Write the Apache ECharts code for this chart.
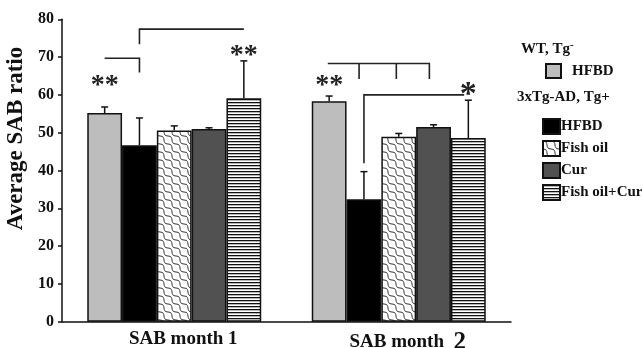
<!DOCTYPE html>
<html><head><meta charset="utf-8">
<script src="https://cdn.jsdelivr.net/npm/echarts@6/dist/echarts.min.js"></script>
<style>html,body{margin:0;padding:0;background:#fff}#c{width:642px;height:348px}</style>
</head><body><div id="c"></div>
<script>
// ---- data ----
const categories = ['SAB month 1', 'SAB month 2'];
const seriesNames = ['WT HFBD', 'HFBD', 'Fish oil', 'Cur', 'Fish oil+Cur'];
const wtHFBD = [55.2, 58.3];
const tgHFBD = [46.7, 32.4];
const fishOil = [50.6, 48.9];
const cur = [51.0, 51.5];
const fishOilCur = [59.1, 48.6];
const wtHFBDErr = [1.6, 1.4];
const tgHFBDErr = [7.2, 7.3];
const fishOilErr = [1.2, 0.9];
const curErr = [0.3, 0.6];
const fishOilCurErr = [9.9, 10.0];
const yTicks = [0, 10, 20, 30, 40, 50, 60, 70, 80];
// significance brackets: polylines of [category, bar position, value]
const brackets = [
  [[0, 0, 69.7], [0, 1, 69.7], [0, 1, 65.9]],
  [[0, 1, 73.4], [0, 1, 77.4], [0, 4, 77.4]],
  [[1, -0.04, 68.3], [1, 2.88, 68.3], [1, 2.88, 64.2]],
  [[1, 0.86, 68.3], [1, 0.86, 64.2]],
  [[1, 1.93, 68.3], [1, 1.93, 64.2]],
  [[1, 1, 41.9], [1, 1, 60.0], [1, 3.88, 60.0]]
];
// significance stars: [category, bar position, value, text]
const starCat = [0, 0, 1, 1];
const starBar = [0, 4, 0, 4];
const starVal = [63.5, 71.4, 63.5, 61.7];
const starText = ['**', '**', '**', '*'];

// ---- styling ----
const FONT = '"Liberation Serif", "Times New Roman", serif';
const GAP = 0.225;
function stripes() {
  const c = document.createElement('canvas'); c.width = 4; c.height = 3;
  const g = c.getContext('2d'); g.fillStyle = '#fff'; g.fillRect(0, 0, 4, 3);
  g.fillStyle = '#111'; g.fillRect(0, 0, 4, 1.3); return c;
}
function waves() {
  const c = document.createElement('canvas'); c.width = 8; c.height = 8;
  const g = c.getContext('2d'); g.fillStyle = '#fff'; g.fillRect(0, 0, 8, 8);
  g.strokeStyle = '#333'; g.lineWidth = 1;
  for (const [dx, dy] of [[0, 0], [-8, 0], [8, 0], [0, -8], [0, 8]]) {
    g.beginPath(); g.moveTo(dx, dy); g.bezierCurveTo(dx + 7, dy, dx + 1, dy + 8, dx + 8, dy + 8); g.stroke();
  }
  return c;
}
const colors = ['#bdbdbd', '#000000', { image: waves(), repeat: 'repeat' }, '#515151', { image: stripes(), repeat: 'repeat' }];
const values = [wtHFBD, tgHFBD, fishOil, cur, fishOilCur];
const errs = [wtHFBDErr, tgHFBDErr, fishOilErr, curErr, fishOilCurErr];

function barX(api, cat, pos) {
  const cx = api.coord([cat, 0])[0];
  const bw = api.size([1, 0])[0] * (1 - GAP) / 5;
  return cx + (pos - 2) * bw;
}

const barSeries = seriesNames.map((n, i) => ({
  name: n, type: 'bar', data: values[i], barGap: '0%', barCategoryGap: (GAP * 100) + '%',
  itemStyle: { color: colors[i], borderColor: '#111', borderWidth: 1.5 },
  emphasis: { disabled: true }, z: 2
}));

const errData = [];
values.forEach((arr, s) => arr.forEach((v, c) => errData.push([c, v, errs[s][c], s])));

const chart = echarts.init(document.getElementById('c'), null, { renderer: 'canvas' });
chart.setOption({
  animation: false,
  grid: { left: 62, right: 131, top: 19.3, bottom: 26.3, containLabel: false, outerBoundsMode: 'none' },
  xAxis: {
    type: 'category', data: categories,
    axisLine: { lineStyle: { color: '#111', width: 1.5 } },
    axisTick: { length: 5, lineStyle: { color: '#111', width: 1.5 } },
    axisLabel: {
      color: '#111', fontFamily: FONT, fontWeight: 'bold', fontSize: 19, margin: 8,
      padding: [0, 0, 0, 18],
      formatter: (v, i) => i === 1 ? 'SAB month  {b|2}' : v,
      rich: { b: { fontFamily: FONT, fontWeight: 'bold', fontSize: 25, color: '#111' } }
    }
  },
  yAxis: {
    type: 'value', min: yTicks[0], max: yTicks[yTicks.length - 1], interval: 10,
    name: 'Average SAB ratio', nameLocation: 'middle', nameGap: 29,
    nameTextStyle: { color: '#111', fontFamily: FONT, fontWeight: 'bold', fontSize: 23, padding: [0, 0, 0, 64] },
    axisLine: { show: true, lineStyle: { color: '#111', width: 1.5 } },
    axisTick: { show: true, length: 4, lineStyle: { color: '#111', width: 1.5 } },
    splitLine: { show: false },
    axisLabel: { color: '#111', fontFamily: FONT, fontWeight: 'bold', fontSize: 16, margin: 8 }
  },
  legend: [
    {
      data: ['WT HFBD'], left: 545, top: 63, padding: 0, itemWidth: 15, itemHeight: 14, icon: 'rect', selectedMode: false,
      formatter: () => 'HFBD',
      textStyle: { color: '#111', fontFamily: FONT, fontWeight: 'bold', fontSize: 15, padding: [0, 0, 0, 6] }
    },
    {
      data: ['HFBD', 'Fish oil', 'Cur', 'Fish oil+Cur'], orient: 'vertical', left: 542, top: 118, padding: 0,
      itemWidth: 17, itemHeight: 15, itemGap: 5, icon: 'rect', selectedMode: false,
      textStyle: { color: '#111', fontFamily: FONT, fontWeight: 'bold', fontSize: 15, padding: [0, 0, 0, -4] }
    }
  ],
  graphic: [
    {
      type: 'text', left: 521, top: 40,
      style: {
        text: '{a|WT, Tg}{s|-}',
        rich: {
          a: { fontFamily: FONT, fontWeight: 'bold', fontSize: 15, fill: '#111' },
          s: { fontFamily: FONT, fontWeight: 'bold', fontSize: 11, fill: '#111', verticalAlign: 'top', padding: [0, 0, 8, 0] }
        }
      }
    },
    {
      type: 'text', left: 517, top: 90,
      style: { text: '3xTg-AD, Tg+', fontFamily: FONT, fontWeight: 'bold', fontSize: 15, fill: '#111' }
    }
  ],
  series: [
    ...barSeries,
    {
      type: 'custom', name: 'errors', data: errData, z: 3, silent: true,
      renderItem: (params, api) => {
        const c = api.value(0), v = api.value(1), e = api.value(2), s = api.value(3);
        const x = barX(api, c, s);
        const y0 = api.coord([c, v])[1], y1 = api.coord([c, v + e])[1];
        return {
          type: 'group', children: [
            { type: 'line', shape: { x1: x, y1: y0, x2: x, y2: y1 }, style: { stroke: '#111', lineWidth: 1.5 } },
            { type: 'line', shape: { x1: x - 3.5, y1: y1, x2: x + 3.5, y2: y1 }, style: { stroke: '#111', lineWidth: 1.5 } }
          ]
        };
      }
    },
    {
      type: 'custom', name: 'brackets', data: brackets.map(b => [b[0][0], b[0][2]]), z: 3, silent: true,
      renderItem: (params, api) => {
        const pts = brackets[params.dataIndex].map(p => [barX(api, p[0], p[1]), api.coord([p[0], p[2]])[1]]);
        return { type: 'polyline', shape: { points: pts }, style: { stroke: '#222', lineWidth: 1.6, fill: null } };
      }
    },
    {
      type: 'custom', name: 'stars', data: starCat.map((c, i) => [c, starVal[i]]), z: 3, silent: true,
      renderItem: (params, api) => {
        const i = params.dataIndex;
        const x = barX(api, starCat[i], starBar[i]);
        const y = api.coord([starCat[i], starVal[i]])[1];
        const big = starText[i] === '*';
        return {
          type: 'text', x: x, y: y + (big ? 7 : 4),
          style: {
            text: starText[i], fontFamily: FONT, fontWeight: 'bold', fontSize: big ? 34 : 28, fill: '#222',
            textAlign: 'center', textVerticalAlign: 'middle'
          }
        };
      }
    }
  ]
});
</script></body></html>
